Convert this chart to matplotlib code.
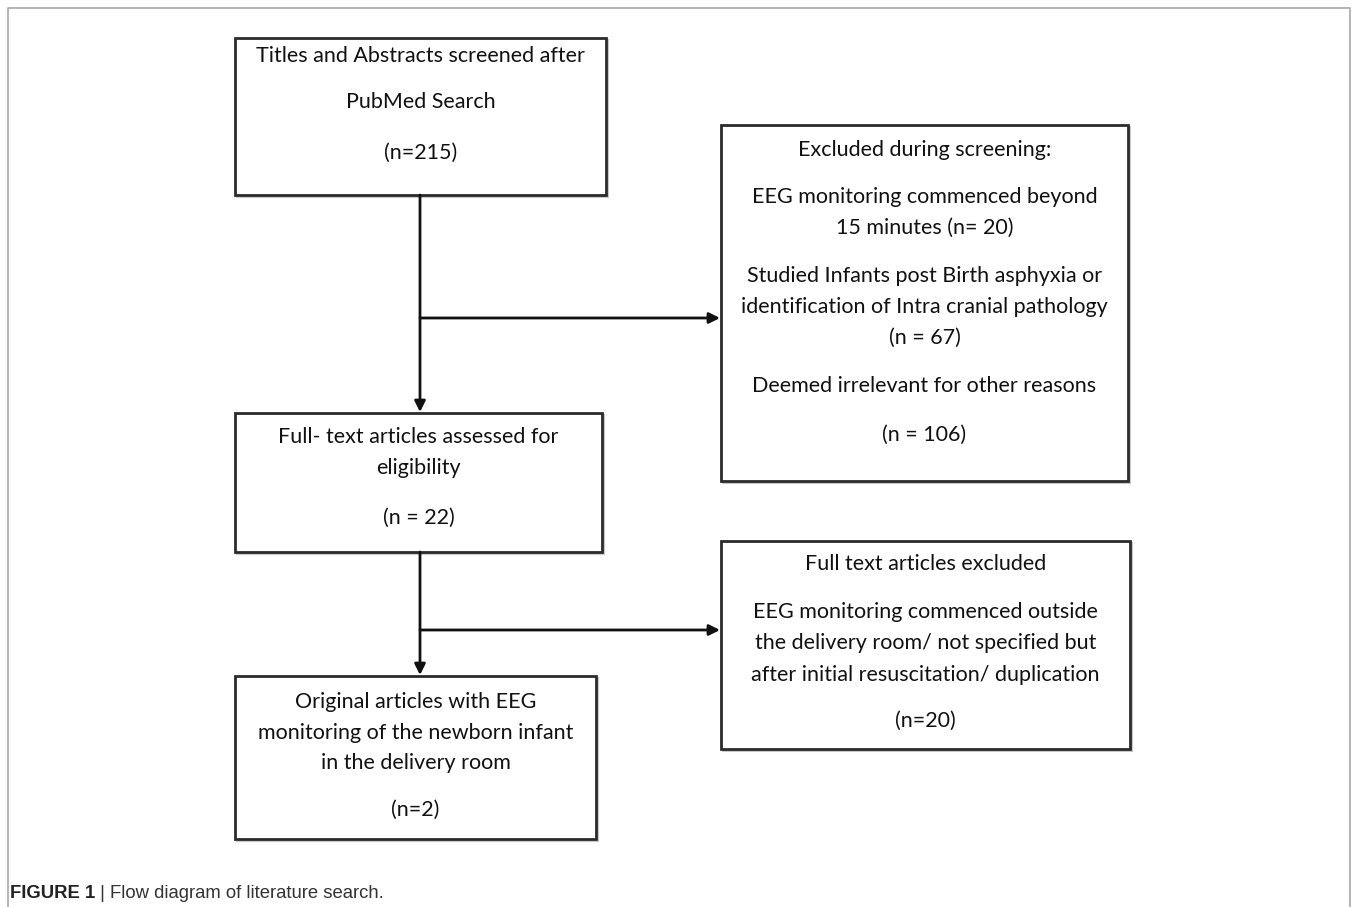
import matplotlib
matplotlib.use("Agg")
import matplotlib.pyplot as plt
from matplotlib.patches import Rectangle, FancyArrowPatch

# ---- content ----
box1_lines = ["Titles and Abstracts screened after", "PubMed Search", "(n=215)"]
box2_lines = ["Excluded during screening:",
              "EEG monitoring commenced beyond", "15 minutes (n= 20)",
              "Studied Infants post Birth asphyxia or",
              "identification of Intra cranial pathology", "(n = 67)",
              "Deemed irrelevant for other reasons", "(n = 106)"]
box3_lines = ["Full- text articles assessed for", "eligibility", "(n = 22)"]
box4_lines = ["Full text articles excluded",
              "EEG monitoring commenced outside",
              "the delivery room/ not specified but",
              "after initial resuscitation/ duplication", "(n=20)"]
box5_lines = ["Original articles with EEG",
              "monitoring of the newborn infant",
              "in the delivery room", "(n=2)"]
caption_bold = "FIGURE 1"
caption_rest = " | Flow diagram of literature search."

W, H = 1357, 907
fig = plt.figure(figsize=(W / 100, H / 100), dpi=100)
ax = fig.add_axes([0, 0, 1, 1])
ax.set_xlim(0, W)
ax.set_ylim(H, 0)
ax.axis("off")

FONT = ["Lato", "DejaVu Sans"]
FS = 15.5
EC = "#2b2b2b"

# outer frame (no bottom edge)
ax.plot([8, 8, 1350, 1350], [H + 5, 8, 8, H + 5], color="#a8a8a8", lw=1.2,
        solid_capstyle="butt")


def box(x0, y0, x1, y1, lines, ys):
    ax.add_patch(Rectangle((x0 + 2, y0 + 2), x1 - x0, y1 - y0, fill=False,
                           ec="#c8c8c8", lw=1.5))
    ax.add_patch(Rectangle((x0, y0), x1 - x0, y1 - y0, fc="white",
                           ec=EC, lw=2.0))
    cx = (x0 + x1) / 2
    for t, y in zip(lines, ys):
        ax.text(cx, y, t, ha="center", va="center", fontsize=FS,
                family=FONT, color="#111111")


box(235, 38, 606, 195, box1_lines, [56, 102, 153])
box(721, 125, 1128, 481, box2_lines, [150, 197, 228, 276, 307, 338, 386, 435])
box(235, 413, 602, 552, box3_lines, [437, 468, 518])
box(721, 541, 1130, 749, box4_lines, [564, 612, 643, 675, 721])
box(235, 676, 596, 839, box5_lines, [702, 733, 763, 810])


def arrow(x0, y0, x1, y1):
    ax.add_patch(FancyArrowPatch((x0, y0), (x1, y1), arrowstyle="-|>",
                                 mutation_scale=16, lw=2.0, color="#111111",
                                 shrinkA=0, shrinkB=0))


arrow(420, 195, 420, 412)
arrow(420, 318, 720, 318)
arrow(420, 552, 420, 675)
arrow(420, 630, 720, 630)

# caption
CAPF = ["Liberation Sans Narrow", "Liberation Sans", "DejaVu Sans"]
t = ax.text(10, 893, caption_bold, ha="left", va="center", fontsize=13.3,
            family=CAPF, weight="bold", color="#222222")
ax.annotate(caption_rest, xy=(1, 0.5), xycoords=t, ha="left", va="center",
            fontsize=13.3, family=CAPF, color="#333333")

fig.savefig("out.png", dpi=100)
